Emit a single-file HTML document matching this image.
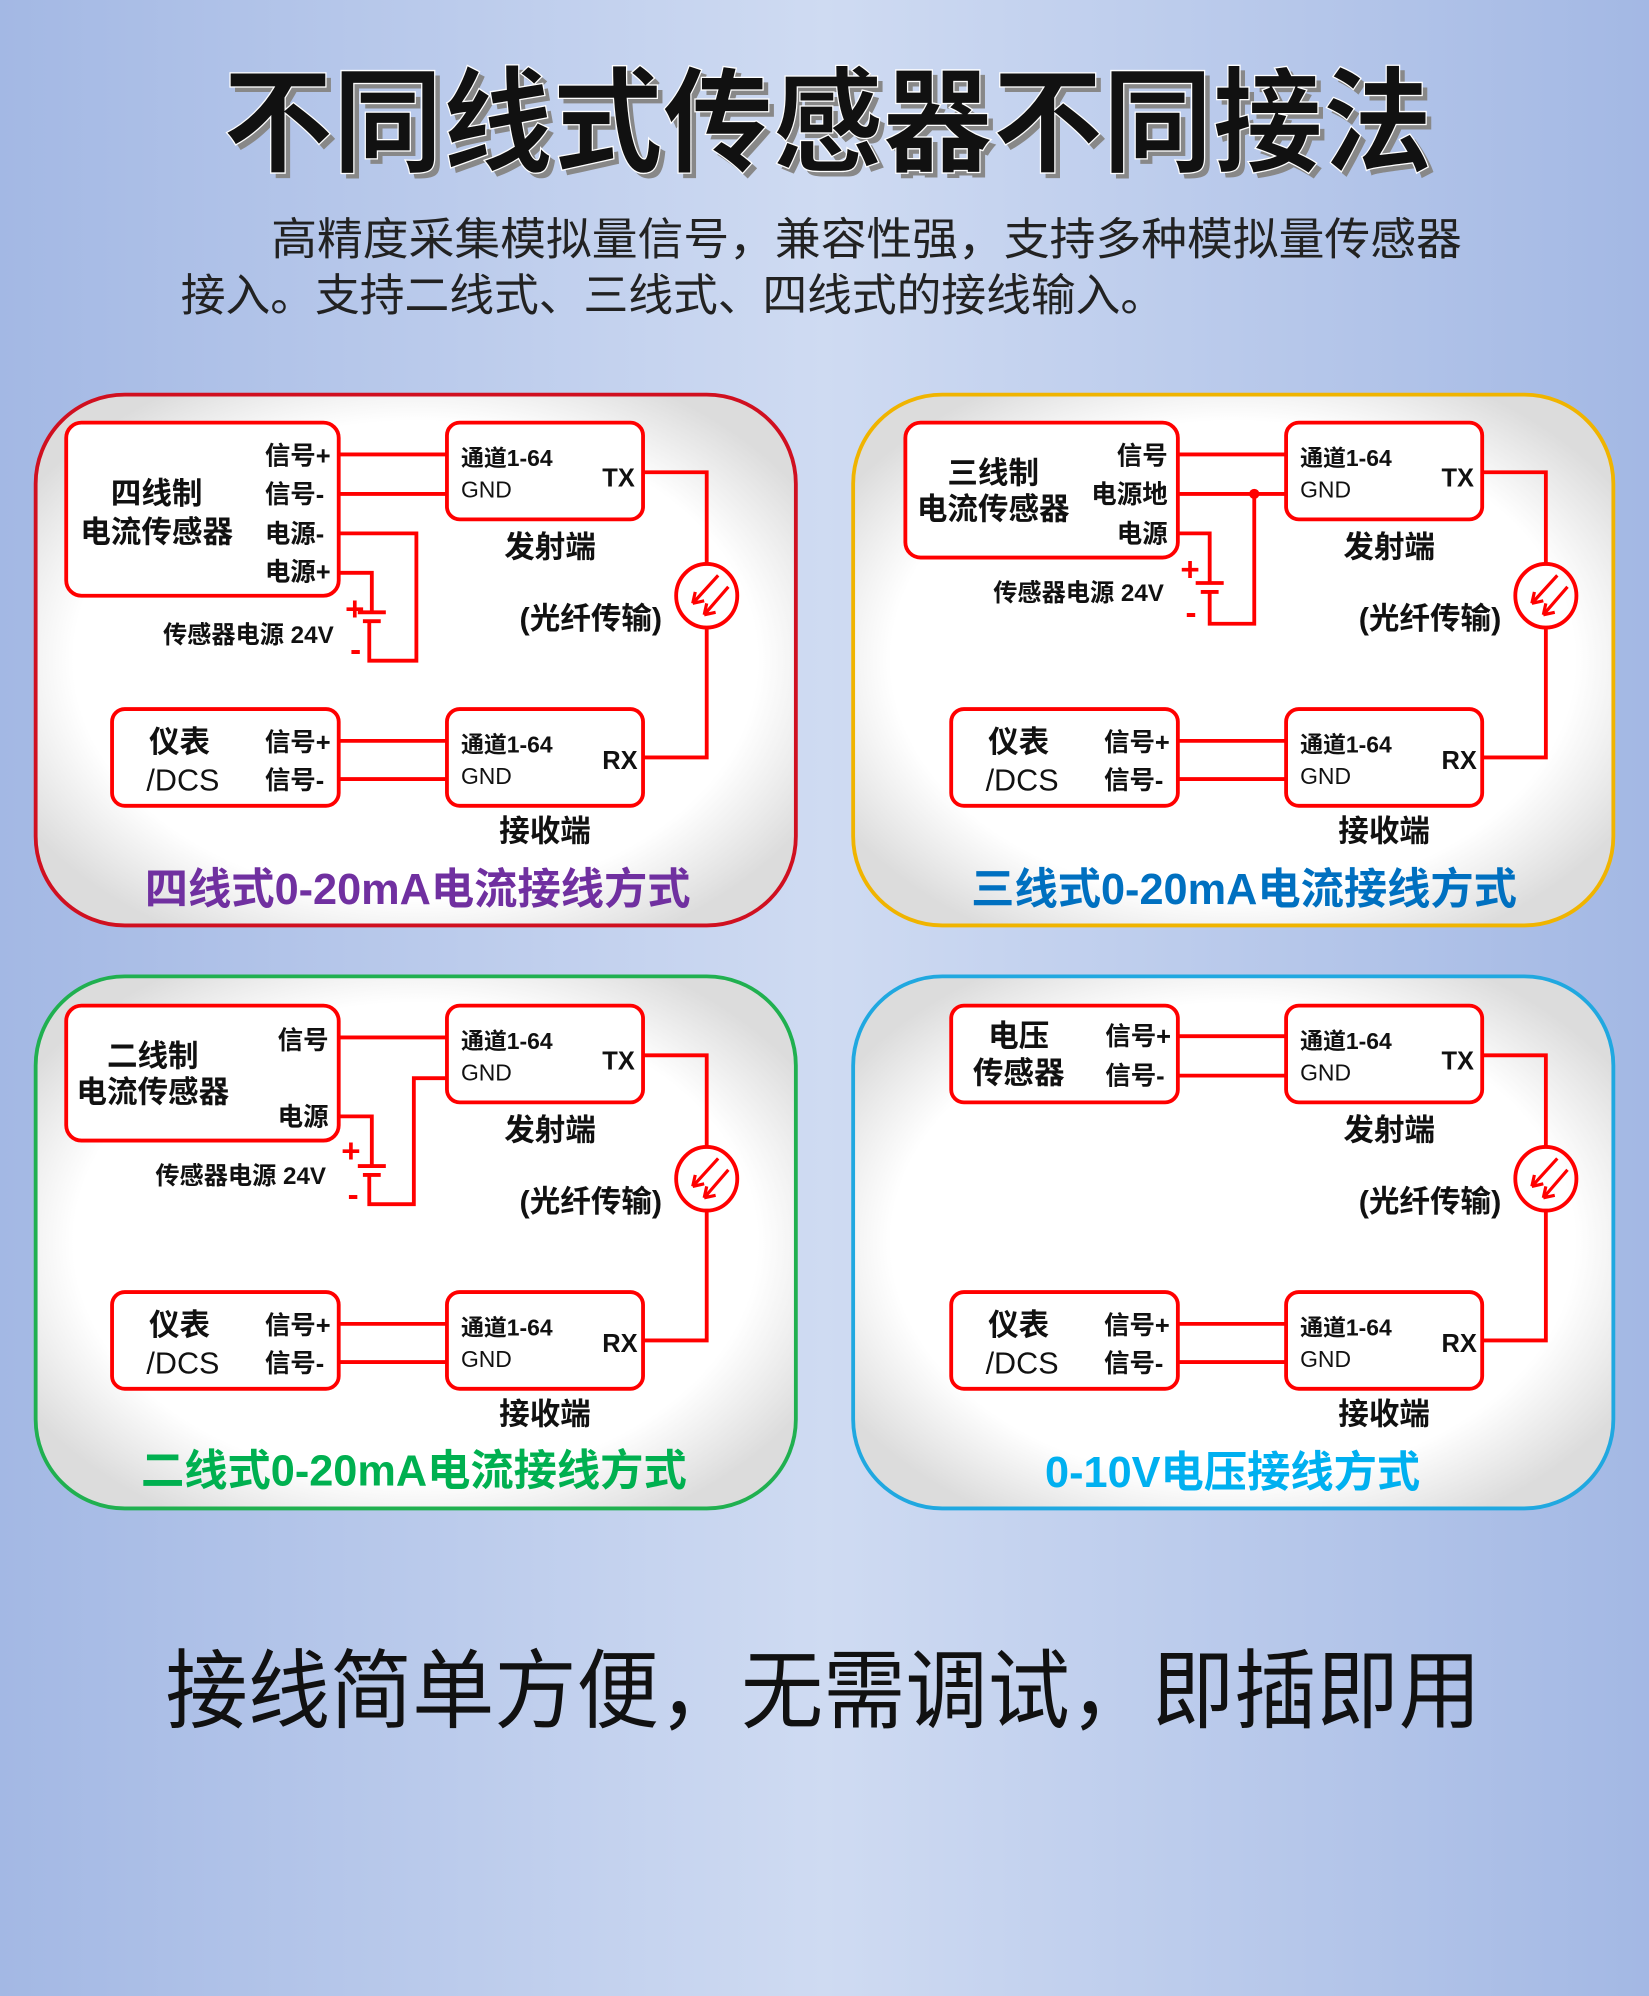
<!DOCTYPE html>
<html><head><meta charset="utf-8"><style>
html,body{margin:0;padding:0;width:1649px;height:1996px;overflow:hidden;}
svg{display:block;}
text{font-family:"Liberation Sans","Noto Sans CJK SC",sans-serif;font-weight:bold;fill:#111;}
.w{stroke:#f00;stroke-width:3;fill:none;}
.b{stroke:#f00;stroke-width:3;fill:#fff;}
.s{font-size:20px;}
.m{font-size:18px;font-weight:normal;}
.l{font-size:24px;}
</style></head><body>
<svg width="1649" height="1996" viewBox="0 0 1295 1568" preserveAspectRatio="none" xmlns="http://www.w3.org/2000/svg">
<defs>
<linearGradient id="bg" x1="0" y1="0" x2="1" y2="0">
<stop offset="0" stop-color="#a3b8e4"/><stop offset="0.5" stop-color="#cfdbf2"/><stop offset="1" stop-color="#a3b8e4"/>
</linearGradient>
<radialGradient id="pf" cx="0.5" cy="0.5" r="0.6">
<stop offset="0.75" stop-color="#ffffff"/><stop offset="1" stop-color="#dcdcdc"/>
</radialGradient>
<g id="fiber">
<ellipse cx="0" cy="0" rx="24" ry="25" class="w" fill="#fff"/>
<path d="M9,-16 L-11,6 M-11,6 l2,-9 M-11,6 l9,-2 M17,-7 L-2,15 M-2,15 l2,-9 M-2,15 l9,-2" stroke="#f00" stroke-width="2.5" fill="none"/>
</g>
<g id="bottom">
<rect x="88" y="557" width="178" height="76" rx="10" class="b"/>
<text x="117" y="591" class="l">仪表</text>
<text x="115" y="621" class="l" style="font-weight:normal">/DCS</text>
<text x="208" y="590" class="s">信号+</text>
<text x="208" y="620" class="s">信号-</text>
<path d="M266,582 H351 M266,612 H351" class="w"/>
<rect x="351" y="557" width="154" height="76" rx="10" class="b"/>
<text x="362" y="591" class="m" style="font-weight:bold">通道1-64</text>
<text x="362" y="616" class="m">GND</text>
<text x="473" y="604" class="s">RX</text>
<text x="428" y="661" class="l" text-anchor="middle">接收端</text>
<path d="M505,595 H555 V493" class="w"/>
<use href="#fiber" x="555" y="468"/>
<text x="464" y="494" class="l" text-anchor="middle" style="font-weight:bold">(光纤传输)</text>
<rect x="351" y="332" width="154" height="76" rx="10" class="b"/>
<text x="362" y="366" class="m" style="font-weight:bold">通道1-64</text>
<text x="362" y="391" class="m">GND</text>
<text x="473" y="382" class="s">TX</text>
<text x="432" y="438" class="l" text-anchor="middle">发射端</text>
<path d="M505,371 H555 V443" class="w"/>
</g>
</defs>
<rect width="1295" height="1568" fill="url(#bg)"/>
<text x="179" y="132" font-size="90" textLength="950" lengthAdjust="spacingAndGlyphs" style="fill:#888">不同线式传感器不同接法</text>
<text x="175" y="128" font-size="90" textLength="950" lengthAdjust="spacingAndGlyphs" style="fill:#111;stroke:#fff;stroke-width:1">不同线式传感器不同接法</text>
<text x="213" y="200" font-size="35" textLength="935" lengthAdjust="spacingAndGlyphs" style="font-weight:normal;fill:#222">高精度采集模拟量信号，兼容性强，支持多种模拟量传感器</text>
<text x="142" y="244" font-size="35" textLength="773" lengthAdjust="spacingAndGlyphs" style="font-weight:normal;fill:#222">接入。支持二线式、三线式、四线式的接线输入。</text>

<rect x="28" y="310" width="597" height="417" rx="70" fill="url(#pf)" stroke="#d01020" stroke-width="3"/>
<rect x="670" y="310" width="597" height="417" rx="70" fill="url(#pf)" stroke="#f0b400" stroke-width="3"/>
<rect x="28" y="767" width="597" height="418" rx="70" fill="url(#pf)" stroke="#20b050" stroke-width="3"/>
<rect x="670" y="767" width="597" height="418" rx="70" fill="url(#pf)" stroke="#20a8e0" stroke-width="3"/>

<!-- P1 -->
<use href="#bottom"/>
<rect x="52" y="332" width="214" height="136" rx="12" class="b"/>
<text x="123" y="396" class="l" text-anchor="middle">四线制</text>
<text x="123" y="426" class="l" text-anchor="middle">电流传感器</text>
<text x="208" y="365" class="s">信号+</text>
<text x="208" y="395" class="s">信号-</text>
<text x="208" y="426" class="s">电源-</text>
<text x="208" y="456" class="s">电源+</text>
<path d="M266,357 H351 M266,388 H351 M266,419 H327 V519 H290 V488 M266,450 H292 V481" class="w"/>
<path d="M281,481 H303 M285,488 H299" stroke="#f00" stroke-width="3"/>
<text x="271" y="487" font-size="26" style="fill:#f00">+</text>
<text x="275" y="519" font-size="26" style="fill:#f00">-</text>
<text x="128" y="505" font-size="19">传感器电源 24V</text>
<text x="328" y="710" font-size="34" text-anchor="middle" style="fill:#7030a0">四线式0-20mA电流接线方式</text>

<!-- P2 -->
<use href="#bottom" x="659"/>
<rect x="711" y="332" width="214" height="106" rx="12" class="b"/>
<text x="780" y="380" class="l" text-anchor="middle">三线制</text>
<text x="780" y="408" class="l" text-anchor="middle">电流传感器</text>
<text x="917" y="365" class="s" text-anchor="end">信号</text>
<text x="917" y="395" class="s" text-anchor="end">电源地</text>
<text x="917" y="426" class="s" text-anchor="end">电源</text>
<path d="M925,357 H1011 M925,388 H1011 M985,388 V490 H950 V465 M925,419 H950 V458" class="w"/>
<circle cx="985" cy="388" r="4" fill="#f00"/>
<path d="M939,458 H961 M943,465 H957" stroke="#f00" stroke-width="3"/>
<text x="927" y="456" font-size="26" style="fill:#f00">+</text>
<text x="931" y="490" font-size="26" style="fill:#f00">-</text>
<text x="780" y="472" font-size="19">传感器电源 24V</text>
<text x="977" y="710" font-size="34" text-anchor="middle" style="fill:#0070c0">三线式0-20mA电流接线方式</text>

<!-- P3 -->
<use href="#bottom" y="458"/>
<rect x="52" y="790" width="214" height="106" rx="12" class="b"/>
<text x="120" y="838" class="l" text-anchor="middle">二线制</text>
<text x="120" y="866" class="l" text-anchor="middle">电流传感器</text>
<text x="258" y="824" class="s" text-anchor="end">信号</text>
<text x="258" y="884" class="s" text-anchor="end">电源</text>
<path d="M266,815 H351 M266,877 H292 V916 M290,923 V946 H325 V847 H351" class="w"/>
<path d="M281,916 H303 M285,923 H299" stroke="#f00" stroke-width="3"/>
<text x="268" y="913" font-size="26" style="fill:#f00">+</text>
<text x="273" y="947" font-size="26" style="fill:#f00">-</text>
<text x="122" y="930" font-size="19">传感器电源 24V</text>
<text x="325" y="1167" font-size="34" text-anchor="middle" style="fill:#00b050">二线式0-20mA电流接线方式</text>

<!-- P4 -->
<use href="#bottom" x="659" y="458"/>
<rect x="747" y="790" width="178" height="76" rx="10" class="b"/>
<text x="800" y="822" class="l" text-anchor="middle">电压</text>
<text x="800" y="851" class="l" text-anchor="middle">传感器</text>
<text x="868" y="821" class="s">信号+</text>
<text x="868" y="852" class="s">信号-</text>
<path d="M925,814 H1011 M925,845 H1011" class="w"/>
<text x="968" y="1168" font-size="34" text-anchor="middle" style="fill:#00b0f0">0-10V电压接线方式</text>

<text x="130" y="1352" font-size="68" textLength="1033" lengthAdjust="spacingAndGlyphs" style="font-weight:normal;fill:#111">接线简单方便，无需调试，即插即用</text>
</svg>
</body></html>
